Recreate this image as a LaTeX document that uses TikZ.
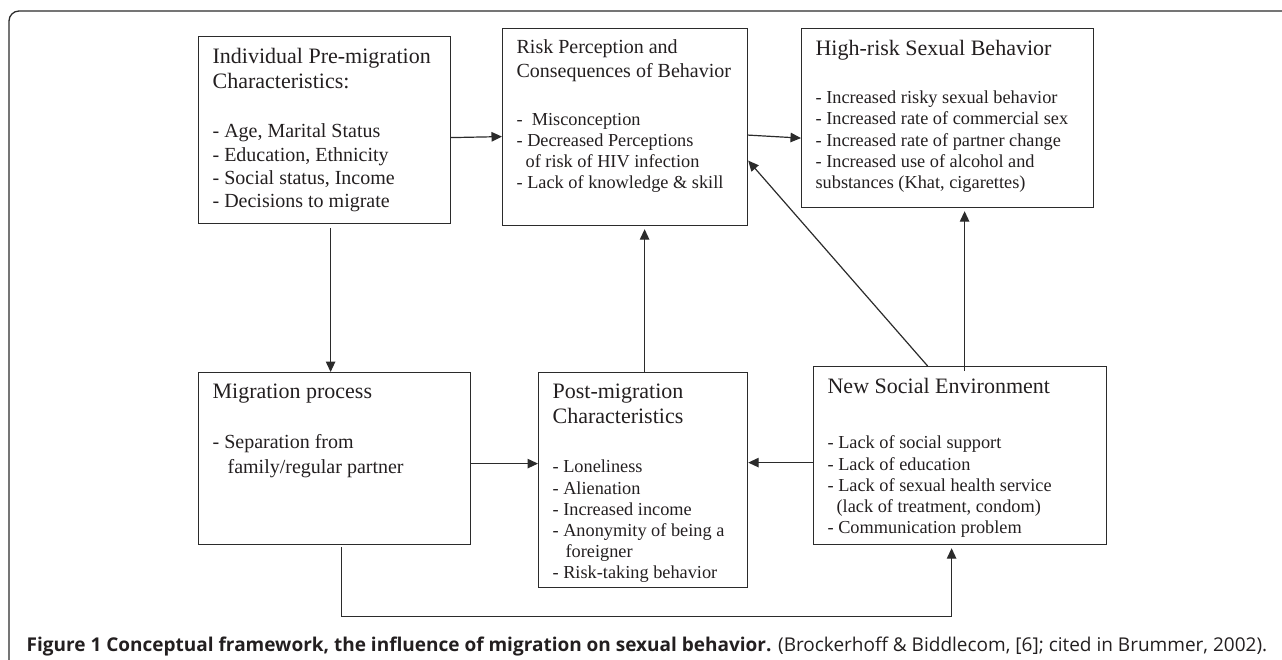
\documentclass[tikz,border=0pt]{standalone}
\usepackage{fontspec}
\setmainfont{Liberation Serif}
\newfontfamily\capfont{Open Sans}
\usetikzlibrary{arrows.meta}
\definecolor{inkgray}{HTML}{231F20}
\definecolor{linegray}{HTML}{2B2B2B}
% box body: width, height, first baseline, content
\newcommand{\boxbody}[4]{\parbox[c][#2pt][t]{\dimexpr#1pt-28pt\relax}{\rule{0pt}{#3pt}#4}}
\newcommand{\titlesize}{\fontsize{22}{25}\selectfont}
\newcommand{\itemsize}{\fontsize{18.3}{21.2}\selectfont}

\begin{document}
\begin{tikzpicture}[x=1pt,y=-1pt,
    box/.style={draw=linegray, line width=1.2pt, anchor=north west,
      inner xsep=14pt, inner ysep=0pt, text=inkgray},
    arr/.style={-{Triangle[length=10.5pt,width=9.5pt]}, draw=linegray, line width=1.2pt}]
  \useasboundingbox (0,0) rectangle (1282,660);
  % frame
  \draw[linegray, line width=1.3pt, rounded corners=10pt] (9,662) -- (9,11) -- (1284,11);

  % top row
  \node[box] (pre) at (198,36) {\boxbody{252}{187}{27}{%
    {\titlesize Individual Pre-migration\\Characteristics:\par}\vspace{26pt}
    {\fontsize{20}{23.3}\selectfont - Age, Marital Status\\- Education, Ethnicity\\
     - Social status, Income\\- Decisions to migrate\par}}};
  \node[box] (risk) at (502,28) {\boxbody{245}{197}{25}{%
    {\fontsize{20}{23.5}\selectfont Risk Perception and\\Consequences of Behavior\par}\vspace{27pt}
    {\itemsize -\ \ Misconception\\- Decreased Perceptions\\
     \hspace*{9pt}of risk of HIV infection\\- Lack of knowledge \& skill\par}}};
  \node[box] (hrsb) at (801,28) {\boxbody{292}{179}{27}{%
    {\titlesize High-risk Sexual Behavior\par}\vspace{27pt}
    {\itemsize - Increased risky sexual behavior\\- Increased rate of commercial sex\\
     - Increased rate of partner change\\- Increased use of alcohol and\\
     substances (Khat, cigarettes)\par}}};

  % bottom row
  \node[box] (mig) at (198,372) {\boxbody{272}{172}{26}{%
    {\titlesize Migration process\par}\vspace{25.5pt}
    {\fontsize{20}{24.5}\selectfont - Separation from\\\hspace*{15pt}family/regular partner\par}}};
  \node[box] (post) at (538,372) {\boxbody{209}{215}{26}{%
    {\titlesize Post-migration\\Characteristics\par}\vspace{28pt}
    {\itemsize - Loneliness\\- Alienation\\- Increased income\\- Anonymity of being a\\
     \hspace*{13pt}foreigner\\- Risk-taking behavior\par}}};
  \node[box] (env) at (813,366) {\boxbody{293}{178}{27}{%
    {\titlesize New Social Environment\par}\vspace{34pt}
    {\itemsize - Lack of social support\\- Lack of education\\- Lack of sexual health service\\
     \hspace*{9pt}(lack of treatment, condom)\\- Communication problem\par}}};

  % connectors
  \draw[arr] ([yshift=-7.5pt]pre.east) -- ([yshift=-6.5pt]pre.east -| risk.west);
  \draw[arr] ([yshift=-8pt]risk.east) -- ([yshift=-20pt]hrsb.west);
  \draw[arr] ([xshift=6pt,yshift=-4pt]pre.south) -- ([xshift=6pt]pre.south |- mig.north);
  \draw[arr, shorten >=3pt] ([xshift=1.5pt]post.north) -- ([xshift=1.5pt]post.north |- risk.south);
  \draw[arr] ([xshift=-32.5pt]env.north) -- ([yshift=-33.5pt]risk.east);
  \draw[arr, shorten >=3pt] ([xshift=4.5pt,yshift=-5pt]env.north) -- ([xshift=4.5pt]env.north |- hrsb.south);
  \draw[arr] ([yshift=-7pt]env.west) -- ([yshift=-7pt]env.west -| post.east);
  \draw[arr] ([yshift=-5pt]mig.east) -- ([yshift=-5pt]mig.east -| post.west);
  \draw[arr, shorten >=3pt] ([xshift=7pt,yshift=-2pt]mig.south) -- ++(0,69) -| ([xshift=-8.5pt]env.south);

  % caption
  \node[anchor=base west, inner sep=0pt, text=inkgray] (cap) at (26.5,651)
    {\capfont\fontsize{19}{21}\selectfont\textbf{Figure 1 Conceptual framework, the influence of migration on sexual behavior.}
     (Brockerhoff \& Biddlecom, [6]; cited in Brummer, 2002).};
\end{tikzpicture}
\end{document}
